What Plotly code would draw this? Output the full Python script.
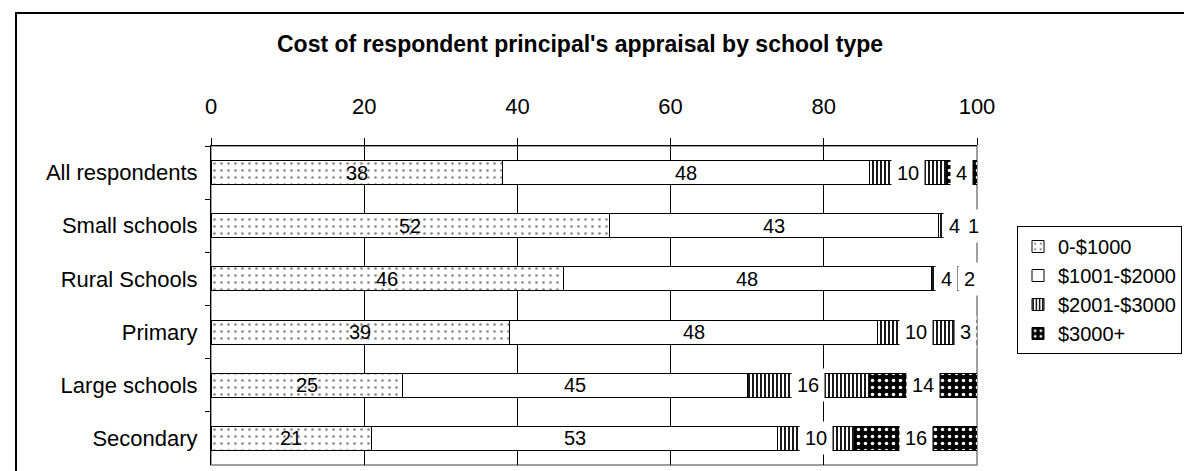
import plotly.graph_objects as go

categories = ["All respondents", "Small schools", "Rural Schools", "Primary", "Large schools", "Secondary"]
series_names = ["0-$1000", "$1001-$2000", "$2001-$3000", "$3000+"]
v_0_1000 = [38, 52, 46, 39, 25, 21]
v_1001_2000 = [48, 43, 48, 48, 45, 53]
v_2001_3000 = [10, 4, 4, 10, 16, 10]
v_3000_plus = [4, 1, 2, 3, 14, 16]
x_ticks = [0, 20, 40, 60, 80, 100]

series_values = [v_0_1000, v_1001_2000, v_2001_3000, v_3000_plus]

patterns = [
    dict(shape=".", fgcolor="#8a8a8a", bgcolor="white", size=7, solidity=0.12, fillmode="replace"),
    dict(shape="", fgcolor="white", bgcolor="white", fillmode="replace"),
    dict(shape="|", fgcolor="black", bgcolor="white", size=4, solidity=0.45, fillmode="replace"),
    dict(shape=".", fgcolor="white", bgcolor="black", size=7, solidity=0.2, fillmode="replace"),
]

FONT = "Liberation Sans, Arial, sans-serif"

fig = go.Figure()
for name, vals, pat in zip(series_names, series_values, patterns):
    fig.add_trace(go.Bar(
        y=categories, x=vals, name=name, orientation="h",
        marker=dict(color="white", pattern=pat, line=dict(color="black", width=1)),
        width=0.45,
    ))

# data labels centred on each segment
for ci, cat in enumerate(categories):
    start = 0
    for si, vals in enumerate(series_values):
        v = vals[ci]
        mid = start + v / 2
        start += v
        boxed = si >= 2
        fig.add_annotation(
            x=mid, y=cat, xref="x", yref="y", text=str(v), showarrow=False,
            font=dict(family=FONT, size=20, color="black"),
            bgcolor="white" if boxed else "rgba(0,0,0,0)",
            borderpad=5 if boxed else 0,
        )

L, R, T, B = 203, 969, 138, 457
W, H = 1192, 471
pw, ph = R - L, B - T

def px(xp):
    return (xp - L) / pw

def py(yp):
    return (B - yp) / ph

fig.add_annotation(
    x=px(572), y=py(36), xref="paper", yref="paper", showarrow=False,
    text="<b>Cost of respondent principal's appraisal by school type</b>",
    font=dict(family=FONT, size=23, color="black"), xanchor="center", yanchor="middle",
)

# plot-area border (grey) and outer chart border (black)
fig.add_shape(type="rect", xref="paper", yref="paper", x0=0, x1=1, y0=0, y1=1,
              line=dict(color="#808080", width=1.5), layer="below")
fig.add_shape(type="rect", xref="paper", yref="paper", x0=px(8), x1=px(1187), y0=py(469), y1=py(5),
              line=dict(color="black", width=2))

fig.update_layout(
    width=W, height=H,
    margin=dict(l=L, r=W - R, t=T, b=H - B),
    barmode="stack",
    plot_bgcolor="white", paper_bgcolor="white",
    font=dict(family=FONT, size=22, color="black"),
    showlegend=True,
    legend=dict(
        x=px(1009), y=py(218), xanchor="left", yanchor="top",
        bordercolor="black", borderwidth=1, bgcolor="white",
        font=dict(family=FONT, size=20), traceorder="normal",
        itemwidth=30, tracegroupgap=0,
    ),
)
fig.update_xaxes(
    side="top", range=[0, 100], tickvals=x_ticks, ticktext=[str(t) for t in x_ticks],
    showgrid=True, gridcolor="black", gridwidth=1,
    showline=True, linecolor="black", linewidth=1,
    ticks="outside", ticklen=7, tickcolor="black",
    ticklabelstandoff=15, zeroline=False,
    tickfont=dict(family=FONT, size=22),
)
fig.update_yaxes(
    categoryorder="array", categoryarray=categories, autorange="reversed",
    showline=True, linecolor="black", linewidth=1,
    ticks="outside", tickson="boundaries", ticklen=5, tickcolor="black",
    ticklabelstandoff=8, showgrid=False,
    tickfont=dict(family=FONT, size=22),
)

fig.write_html("out.html")
